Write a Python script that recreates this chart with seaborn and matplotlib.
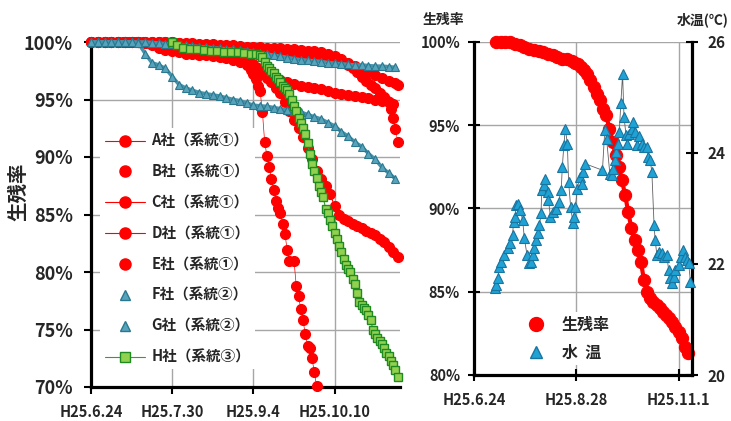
import numpy as np
import pandas as pd
import matplotlib
matplotlib.use("Agg")
import matplotlib.pyplot as plt
import matplotlib.ticker as mtick
from matplotlib.lines import Line2D
import seaborn as sns

sns.set_style("white")
plt.rcParams['font.family'] = ['Noto Sans CJK JP', 'DejaVu Sans']
plt.rcParams['font.weight'] = 'bold'

# --- DATA (x = days since H25.6.24) ---
# left panel: survival rate (%) by company
A_days = [0, 3, 6, 9, 12, 15, 18, 21, 24, 27, 30, 33, 36, 39, 42, 45, 48, 51, 54, 57, 60, 63, 66, 69,
          72, 75, 78, 81, 84, 87, 90, 93, 96, 99, 102, 105, 108, 111, 114, 117, 120, 123, 126, 129,
          132, 135, 136]
A_vals = [100] * 13 + [99.95, 99.9, 99.9, 99.85, 99.8, 99.8, 99.75, 99.7, 99.7, 99.65, 99.6, 99.6,
                       99.55, 99.5, 99.5, 99.45, 99.4, 99.35, 99.3, 99.25, 99.2, 99.1, 98.95, 98.75,
                       98.5, 98.2, 97.9, 97.6, 97.35, 97.1, 96.85, 96.6, 96.4, 96.3]

B_days = [0, 3, 6, 9, 12, 15, 18, 21, 24, 27, 30, 33, 36, 39, 42, 45, 48, 51, 54, 57, 60, 63, 66, 69,
          72, 75, 78, 81, 84, 87, 90, 93, 96, 99, 102, 105, 108, 110, 112, 114, 116, 118, 120, 122,
          124, 126, 128, 130, 131, 132, 133, 134, 135, 136]
B_vals = [100] * 13 + [99.9, 99.85, 99.8, 99.75, 99.7, 99.65, 99.6, 99.55, 99.5, 99.45, 99.4, 99.35,
                       99.3, 99.25, 99.2, 99.15, 99.1, 99.05, 99.0, 98.95, 98.9, 98.8, 98.7, 98.55,
                       98.4, 98.2, 98.0, 97.7, 97.4, 97.0, 96.6, 96.3, 96.0, 95.6, 95.2,
                       95.0, 94.8, 94.2, 93.4, 92.4, 91.3]

C_days = [0, 3, 6, 9, 12, 15, 18, 21, 24, 27, 30, 33, 36, 39, 42, 45, 48, 51, 54, 57, 60, 63, 66, 69,
          72, 75, 78, 81, 84, 87, 90, 93, 96, 99, 102, 105, 108, 111, 114, 117, 120, 123, 126, 129,
          132, 134]
C_vals = [100] * 8 + [99.9, 99.7, 99.5, 99.3, 99.2, 99.1, 99.0, 98.95, 98.9, 98.85, 98.8, 98.7, 98.6,
                      98.45, 98.25, 98.0, 97.7, 97.4, 97.1, 96.9, 96.7, 96.5, 96.35, 96.2, 96.1, 96.0,
                      95.9, 95.75, 95.6, 95.5, 95.4, 95.3, 95.2, 95.1, 95.0, 94.9, 94.8, 94.6]

# D社 is the same lot as the right panel
D_days = [14, 17, 20, 23, 26, 29, 32, 35, 38, 41, 44, 47, 50, 53, 56, 59, 62,
          64, 66, 68, 70, 72, 74, 76, 78, 80, 82, 84, 86, 88, 90, 92, 94, 96, 98, 100, 102,
          104, 106, 108, 110, 112, 114, 116, 118, 120, 122, 124, 126, 128, 130, 132, 134, 136]
D_vals = [100, 100, 100, 100, 99.9, 99.8, 99.7, 99.6, 99.5, 99.45, 99.4, 99.3, 99.2, 99.1, 99.0,
          98.95, 98.85,
          98.75, 98.65, 98.5, 98.3, 98.05, 97.7, 97.3, 96.9, 96.5, 96.0, 95.6, 94.8, 94.0, 93.2,
          92.5, 91.7, 90.8, 89.8, 88.8, 88.1, 87.5, 86.8, 85.7, 85.0, 84.6, 84.4, 84.2, 84.0,
          83.8, 83.6, 83.4, 83.2, 82.9, 82.6, 82.2, 81.7, 81.3]

E_days = [0, 3, 6, 9, 12, 15, 18, 21, 24, 27, 30, 33, 36, 39, 42, 45, 48, 51, 54, 57, 60, 63, 66, 69,
          71, 72, 73, 74, 75, 76, 77, 78, 79, 80, 81, 82, 83, 84, 85, 86, 87, 88, 90, 91, 92, 93,
          94, 95, 96, 97, 98, 99, 100]
E_vals = [100] * 8 + [99.9, 99.8, 99.7, 99.6, 99.5, 99.4, 99.3, 99.2, 99.1, 99.0, 98.9, 98.8, 98.7,
                      98.6, 98.45, 98.2,
                      97.6, 97.2, 96.8, 96.2, 95.7, 93.9, 91.3, 90.1, 89.1, 88.1, 87.1, 86.2, 85.6,
                      85.1, 84.2, 83.3, 81.9, 81.0, 81.0, 78.8, 77.9, 76.8, 75.8, 74.6, 73.6, 73.4,
                      72.5, 71.3, 70.1]

F_days = [0, 3, 6, 9, 12, 15, 18, 21, 24, 27, 30, 33, 36, 39, 42, 45, 48, 51, 54, 57, 60, 63, 66, 69,
          72, 75, 78, 81, 84, 87, 90, 93, 96, 99, 102, 105, 108, 111, 114, 117, 120, 123, 126, 129,
          132, 135]
F_vals = [100] * 9 + [99.95, 99.9, 99.85, 99.8, 99.75, 99.7, 99.65, 99.6, 99.55, 99.5, 99.45, 99.4,
                      99.35, 99.3, 99.25, 99.15, 99.05, 98.95, 98.85, 98.75, 98.65, 98.55, 98.45,
                      98.4, 98.35, 98.3, 98.2, 98.15, 98.1, 98.05, 98.0, 98.0, 97.95, 97.9, 97.9,
                      97.85, 97.8]

G_days = F_days
G_vals = [100] * 7 + [99.9, 99.0, 98.2, 98.0, 97.7, 97.0, 96.3, 96.0, 95.8, 95.6, 95.5, 95.4, 95.3,
                      95.15, 95.0, 94.9, 94.7, 94.5, 94.45, 94.4, 94.3, 94.2, 94.1, 94.0, 93.9, 93.7,
                      93.5, 93.3, 93.0, 92.7, 92.2, 91.8, 91.3, 90.9, 90.3, 89.8, 89.1, 88.6, 88.1]

H_days = [36, 38, 41, 44, 47, 50, 53, 56, 59, 62, 65, 68, 71, 73, 75,
          76, 77, 78, 79, 80, 81, 82, 83, 84, 85, 86, 87, 88, 89, 90, 91, 92, 93, 94, 95,
          96, 97, 98, 99, 100, 101, 102, 103, 104, 105, 106, 107, 108, 109, 110, 111, 112, 113,
          114, 115, 116, 117, 118, 119, 120, 121, 122, 123, 124, 125, 126, 127, 128, 129, 130,
          131, 132, 133, 134, 135, 136]
H_vals = [100, 99.7, 99.5, 99.4, 99.35, 99.3, 99.25, 99.2, 99.15, 99.1, 99.1, 99.05, 99.0, 99.0, 98.9,
          98.7, 98.3, 97.9, 97.7, 97.5, 97.3, 97.0, 96.8, 96.5, 96.2, 96.0, 95.8, 95.5, 95.0, 94.4,
          94.0, 93.4, 93.0, 92.5, 92.0, 91.2, 90.3, 89.4, 88.8, 88.2, 87.5, 87.0, 86.5, 85.5, 85.1,
          84.5, 84.0, 83.4, 82.9, 82.3, 81.7, 81.1, 80.6, 80.3, 80.0, 79.4, 79.0, 78.2, 77.4, 77.1,
          76.9, 76.7, 76.3, 75.8, 75.0, 74.6, 74.3, 74.0, 73.7, 73.4, 73.0, 72.7, 72.3, 71.9, 71.5,
          70.9]

left_labels = ["A社（系統①）", "B社（系統①）", "C社（系統①）", "D社（系統①）", "E社（系統①）",
               "F社（系統②）", "G社（系統②）", "H社（系統③）"]
left_ticks = [0, 36, 72, 108]
left_ticklabels = ["H25.6.24", "H25.7.30", "H25.9.4", "H25.10.10"]

# right panel: water temperature (°C)
T_days = [13.4, 14.2, 15.2, 16.0, 17.0, 19.2, 21.3, 23.0, 24.5, 25.1, 26.2, 26.6, 27.7, 29.4, 30.9,
          32.0, 33.7, 35.2, 36.2, 37.3, 38.4, 39.4, 40.5, 41.6, 42.6, 43.0, 44.3, 45.2, 46.9, 47.3,
          48.6, 50.1, 52.2, 53.7, 55.4, 56.1, 57.1, 58.0, 59.3, 60.1, 61.4, 62.9, 63.5, 64.4, 65.7,
          67.1, 68.6, 69.2, 70.3, 81.6, 83.1, 84.2, 86.3, 87.4, 88.4, 89.5, 90.2, 91.6, 92.3, 93.3,
          94.4, 95.3, 96.6, 97.4, 98.7, 100.2, 101.2, 102.3, 103.4, 105.0, 106.6, 108.1, 109.8,
          110.8, 111.9, 113.0, 114.4, 115.1, 116.2, 117.8, 119.4, 121.0, 122.6, 123.6, 124.7,
          125.8, 126.8, 127.9, 130.0, 131.5, 132.8, 134.3, 135.4, 136.4, 137.5]
T_vals = [21.56, 21.62, 21.75, 21.95, 22.04, 22.16, 22.28, 22.37, 22.52, 22.76, 22.85, 23.06, 23.09,
          22.97, 22.79, 22.46, 22.16, 22.01, 22.04, 22.16, 22.28, 22.43, 22.55, 22.70, 22.91, 23.33,
          23.42, 23.54, 23.30, 23.15, 22.85, 22.94, 23.00, 23.12, 23.33, 23.75, 24.14, 24.44, 24.17,
          23.48, 23.03, 22.73, 22.85, 23.03, 23.36, 23.57, 23.45, 23.66, 23.81, 23.69, 24.41, 24.26,
          23.63, 23.60, 23.72, 23.87, 24.02, 24.17, 24.38, 24.90, 25.42, 24.65, 24.32, 24.17, 24.35,
          24.44, 24.56, 24.38, 24.14, 24.30, 24.17, 24.11, 24.11, 23.93, 23.87, 23.66, 22.70, 22.43,
          22.16, 22.22, 22.19, 22.13, 22.16, 21.89, 21.74, 21.65, 21.77, 21.89, 21.98, 22.13, 22.25,
          22.13, 22.07, 22.01, 21.68]

right_ticks = [0, 65, 130]
right_ticklabels = ["H25.6.24", "H25.8.28", "H25.11.1"]

# --- COLOURS ---
RED = '#ff0000'
TEAL_F, TEAL_E, TEAL_L = '#56a3bb', '#2a788f', '#4694ab'
BLUE_F, BLUE_E = '#1fa2d4', '#1a74a0'
GREEN_F, GREEN_E, GREEN_L = '#92d050', '#1f8a1f', '#3a9a3a'
GRID = '#a6a6a6'


def series(ax, x, y, color, marker, ms, lw, mfc, mec, mew=0.8, z=3):
    sns.lineplot(x=x, y=y, ax=ax, color=color, linewidth=lw, marker=marker,
                 markersize=ms, markerfacecolor=mfc, markeredgecolor=mec,
                 markeredgewidth=mew, sort=False, estimator=None,
                 clip_on=False, zorder=z)


def style_axis(ax):
    ax.set_xlabel("")
    ax.set_ylabel("")
    ax.grid(True, color=GRID, linewidth=1.0)
    ax.set_axisbelow(True)
    for s in ax.spines.values():
        s.set_color('black')
        s.set_linewidth(2.3)
    ax.spines['top'].set_visible(False)


fig = plt.figure(figsize=(7.31, 4.21), dpi=100)
ax1 = fig.add_axes([91 / 731, 34 / 421, 309 / 731, 345 / 421])
ax2 = fig.add_axes([474 / 731, 46 / 421, 218 / 731, 333 / 421])

# --- LEFT PANEL ---
series(ax1, A_days, A_vals, RED, 'o', 7.2, 0.8, RED, RED, z=3)
series(ax1, B_days, B_vals, RED, 'o', 7.2, 0.4, RED, RED, z=3.1)
series(ax1, C_days, C_vals, RED, 'o', 7.2, 0.8, RED, RED, z=3.2)
series(ax1, D_days, D_vals, RED, 'o', 7.2, 0.8, RED, RED, z=3.3)
series(ax1, E_days, E_vals, RED, 'o', 7.2, 0.5, RED, RED, z=3.4)
# dense daily triangles in the original read as a solid band
series(ax1, F_days, F_vals, TEAL_L, '^', 5.5, 2.6, TEAL_F, TEAL_E, z=3.5)
series(ax1, G_days, G_vals, TEAL_L, '^', 5.5, 2.6, TEAL_F, TEAL_E, z=3.6)
series(ax1, H_days, H_vals, GREEN_L, 's', 6, 0.8, GREEN_F, GREEN_E, mew=1.0, z=3.7)

style_axis(ax1)
ax1.spines['right'].set_visible(False)
ax1.set_xlim(0, 137)
ax1.set_ylim(70, 100)
ax1.set_yticks([70, 75, 80, 85, 90, 95, 100])
ax1.yaxis.set_major_formatter(mtick.PercentFormatter(decimals=0))
ax1.set_xticks(left_ticks)
ax1.set_xticklabels(left_ticklabels)
ax1.tick_params(axis='y', direction='out', length=5, width=1.5, color='black',
                labelsize=13, pad=8, left=True)
ax1.tick_params(axis='x', direction='out', length=5, width=1.5, color='black',
                labelsize=10.5, pad=7, bottom=True)
for t in ax1.get_xticklabels() + ax1.get_yticklabels():
    t.set_fontweight('bold')

fig.text(19 / 731, 1 - 192 / 421, "生残率", rotation=90, ha='center', va='center',
         fontsize=14, fontweight='bold')

red_line = dict(color=RED, marker='o', markersize=8, markerfacecolor=RED, markeredgecolor=RED)
handles = [
    Line2D([], [], lw=0.8, **red_line),
    Line2D([], [], lw=0, **red_line),
    Line2D([], [], lw=0.8, **red_line),
    Line2D([], [], lw=0.8, **red_line),
    Line2D([], [], lw=0, **red_line),
    Line2D([], [], lw=0, marker='^', markersize=7, markerfacecolor=TEAL_F, markeredgecolor=TEAL_E),
    Line2D([], [], lw=0, marker='^', markersize=7, markerfacecolor=TEAL_F, markeredgecolor=TEAL_E),
    Line2D([], [], lw=0.8, color=GREEN_L, marker='s', markersize=7, markerfacecolor=GREEN_F,
           markeredgecolor=GREEN_E),
]
leg = ax1.legend(handles, left_labels, loc='upper left', bbox_to_anchor=(0.03, 0.75),
                 prop={'weight': 'bold', 'size': 10.5}, labelspacing=1.02, handlelength=2.8,
                 handletextpad=0.4, borderpad=0.3, borderaxespad=0, frameon=True, fancybox=False)
leg.get_frame().set_facecolor('white')
leg.get_frame().set_edgecolor('none')
leg.get_frame().set_alpha(1)
leg.set_zorder(10)

# --- RIGHT PANEL ---
series(ax2, D_days, D_vals, RED, 'o', 8.8, 3.0, RED, RED, z=3)
style_axis(ax2)
ax2.spines['right'].set_visible(False)
ax2.set_xlim(0, 138.5)
ax2.set_ylim(80, 100)
ax2.set_yticks([80, 85, 90, 95, 100])
ax2.yaxis.set_major_formatter(mtick.PercentFormatter(decimals=0))
ax2.set_xticks(right_ticks)
ax2.set_xticklabels(right_ticklabels)
ax2.tick_params(axis='y', direction='inout', length=8, width=1.5, color='black',
                labelsize=10.5, pad=6, left=True)
ax2.tick_params(axis='x', direction='inout', length=8, width=1.5, color='black',
                labelsize=10.5, pad=8, bottom=True)
for t in ax2.get_xticklabels() + ax2.get_yticklabels():
    t.set_fontweight('bold')

ax2t = ax2.twinx()
series(ax2t, T_days, T_vals, '#606060', '^', 7, 0.6, BLUE_F, BLUE_E, mew=0.8, z=4)
ax2t.set_ylabel("")
ax2t.set_ylim(20, 26)
ax2t.set_yticks([20, 22, 24, 26])
for s in ['top', 'left', 'bottom']:
    ax2t.spines[s].set_visible(False)
ax2t.spines['right'].set_color('black')
ax2t.spines['right'].set_linewidth(2.3)
ax2t.tick_params(axis='y', direction='inout', length=8, width=1.5, color='black',
                 labelsize=11, pad=7, right=True)
for t in ax2t.get_yticklabels():
    t.set_fontweight('bold')

fig.text(443 / 731, 1 - 20 / 421, "生残率", ha='center', va='center', fontsize=10, fontweight='bold')
fig.text(703 / 731, 1 - 20 / 421, "水温(℃)", ha='center', va='center', fontsize=10, fontweight='bold')

r_handles = [
    Line2D([], [], lw=0, marker='o', markersize=10, markerfacecolor=RED, markeredgecolor=RED),
    Line2D([], [], lw=0, marker='^', markersize=8, markerfacecolor=BLUE_F, markeredgecolor=BLUE_E),
]
leg2 = ax2t.legend(r_handles, ["生残率", "水  温"], loc='upper left', bbox_to_anchor=(0.22, 0.19),
                   prop={'weight': 'bold', 'size': 11.5}, labelspacing=0.75, handlelength=1.2,
                   handletextpad=1.0, borderpad=0.3, borderaxespad=0, frameon=True, fancybox=False)
leg2.get_frame().set_facecolor('white')
leg2.get_frame().set_edgecolor('none')
leg2.get_frame().set_alpha(1)

fig.savefig("out.png", dpi=100)
